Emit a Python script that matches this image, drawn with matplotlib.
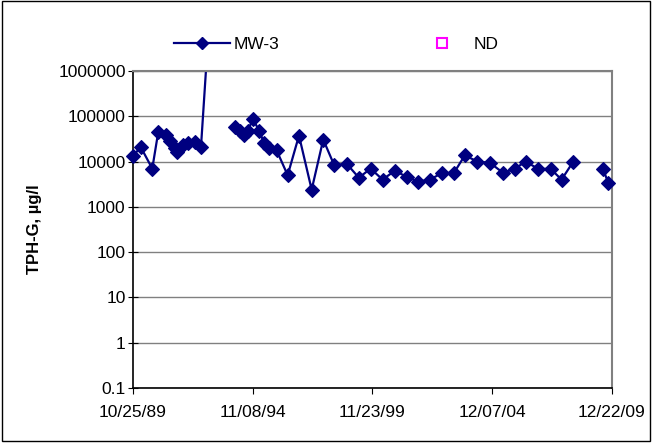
import numpy as np
import pandas as pd
import matplotlib
matplotlib.use("Agg")
import matplotlib.pyplot as plt
import matplotlib.dates as mdates
from matplotlib.lines import Line2D
from matplotlib.patches import Rectangle

plt.rcParams['font.family'] = ['Liberation Sans', 'DejaVu Sans']

# sample dates and TPH-G results for MW-3 (None = break in the line)
dates = ["1989-10-30", "1990-02-20", "1990-08-17", "1990-11-17", "1991-03-15",
         "1991-05-16", "1991-08-01", "1991-09-05", "1991-12-06", "1992-02-12",
         "1992-06-04", "1992-09-04", "1992-12-20", "1993-06-01",
         "1994-02-10", "1994-04-27", "1994-06-27", "1994-09-01", "1994-11-07",
         "1995-02-17", "1995-04-30", "1995-07-20", "1995-11-11", "1996-04-29",
         "1996-10-20", "1997-05-03", "1997-10-28", "1998-04-15", "1998-10-22",
         "1999-04-29", "1999-10-26", "2000-04-28", "2000-11-03", "2001-05-02",
         "2001-10-28", "2002-04-25", "2002-10-31", "2003-04-29", "2003-10-15",
         "2004-04-22", "2004-11-03", "2005-05-27", "2005-11-22", "2006-05-06",
         "2006-11-16", "2007-05-25", "2007-11-10", "2008-05-08", "2008-11-01",
         "2009-08-11", "2009-10-27"]
mw3 = [13500, 21000, 7000, 45000, 39000,
       28000, 20000, 16000, 23700, 26000,
       27000, 21000, 4800000, None,
       58000, 47000, 39500, 48000, 89000,
       48000, 26000, 20000, 17700, 5000,
       37500, 2400, 30600, 8300, 9000,
       4400, 7000, 4000, 6300, 4600,
       3600, 4000, 5600, 5600, 13800,
       10000, 9400, 5600, 7000, 10000,
       6900, 6900, 4000, 10000, None,
       6700, 3400]

y_ticks = [0.1, 1, 10, 100, 1000, 10000, 100000, 1000000]
y_labels = ["0.1", "1", "10", "100", "1000", "10000", "100000", "1000000"]
x_ticks = ["1989-10-25", "1994-11-08", "1999-11-23", "2004-12-07", "2009-12-22"]

dates = pd.to_datetime(dates)
vals = np.array([np.nan if v is None else v for v in mw3], dtype=float)
navy = "#000080"
fs = 12.5

fig = plt.figure(figsize=(6.53, 4.43), dpi=100)
ax = fig.add_axes([0.2037, 0.1242, 0.7333, 0.7155])

# line is clipped at the top of the plot, markers are not clipped at the sides
ax.plot(dates, vals, color=navy, lw=1.6)
inside = vals <= 1000000
ax.plot(dates[inside], vals[inside], ls="none", marker="D", ms=7, mew=0.8,
        markeredgecolor=navy, markerfacecolor=navy, clip_on=False, zorder=3)

ax.set_yscale("log")
ax.set_ylim(0.1, 1000000)
ax.set_yticks(y_ticks)
ax.set_yticklabels(y_labels)
ax.yaxis.set_minor_locator(matplotlib.ticker.NullLocator())

xt = pd.to_datetime(x_ticks)
ax.set_xlim(xt[0], xt[-1])
ax.set_xticks(xt)
ax.xaxis.set_major_formatter(mdates.DateFormatter("%m/%d/%y"))

ax.grid(axis="y", color="#808080", lw=1)
ax.set_axisbelow(True)
ax.spines["top"].set_color("#808080")
ax.spines["right"].set_color("#808080")
ax.spines["right"].set_linewidth(1.5)
ax.spines["top"].set_linewidth(1.5)
ax.spines["left"].set_linewidth(1.2)
ax.spines["bottom"].set_linewidth(1.2)
ax.tick_params(axis="y", labelsize=fs, length=6.5, direction="inout", pad=2)
ax.tick_params(axis="x", labelsize=fs, length=4.5, direction="out", pad=8)

ax.set_ylabel("TPH-G, µg/l", fontsize=12, fontweight="bold", labelpad=12)

handles = [Line2D([], [], color=navy, lw=1.6, marker="D", ms=6, markerfacecolor=navy),
           Line2D([], [], ls="none", marker="s", ms=7, markerfacecolor="none",
                  markeredgecolor="magenta", markeredgewidth=1.5)]
fig.legend(handles, ["MW-3", "ND"], ncol=2, loc="center", bbox_to_anchor=(0.515, 0.9),
           frameon=False, fontsize=fs, columnspacing=7.8, handlelength=3.2,
           handletextpad=0.2)

fig.add_artist(Rectangle((0.003, 0.004), 0.993, 0.993, transform=fig.transFigure,
                         fill=False, ec="black", lw=1))

fig.savefig("out.png", dpi=100)
